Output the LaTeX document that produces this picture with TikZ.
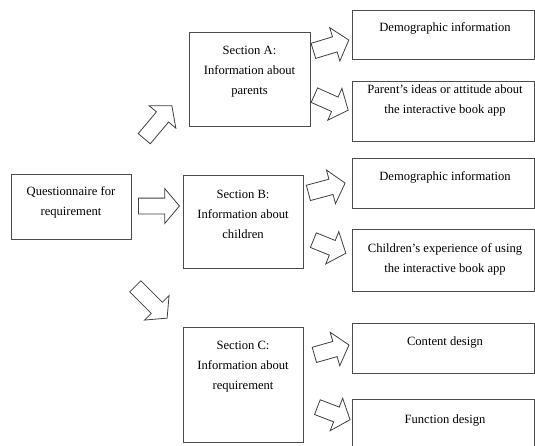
\documentclass[tikz,border=0pt]{standalone}
\usepackage{fontspec}
\setmainfont{Liberation Serif}
\usetikzlibrary{shapes.arrows}
\begin{document}
\begin{tikzpicture}[x=1pt,y=-1pt,
  box/.style={draw=black!70, line width=1.2pt, rectangle, anchor=north west, inner sep=0pt},
  txt/.style={align=center, font=\fontsize{12.6}{20}\selectfont, text=black, inner sep=0pt},
  barrow/.style={single arrow, draw=black!75, line width=0.8pt, fill=white,
    minimum height=#1, single arrow head extend=9.5pt, single arrow tip angle=100,
    inner sep=7.5pt, anchor=tail}
]
\useasboundingbox (0,0) rectangle (535,445);
\clip (0,0) rectangle (535,445);
\fill[white] (0,0) rectangle (535,445);

% boxes
\node[box, minimum width=120pt, minimum height=65pt] (q) at (11,174) {};
\node[box, minimum width=121pt, minimum height=94pt] (a) at (189,32) {};
\node[box, minimum width=120pt, minimum height=93pt] (b) at (183,175) {};
\node[box, minimum width=120pt, minimum height=115pt] (c) at (183,327) {};
\node[box, minimum width=182pt, minimum height=49pt] (a1) at (352,10) {};
\node[box, minimum width=182pt, minimum height=60pt] (a2) at (352,81) {};
\node[box, minimum width=182pt, minimum height=50pt] (b1) at (352,158) {};
\node[box, minimum width=182pt, minimum height=62pt] (b2) at (352,229) {};
\node[box, minimum width=182pt, minimum height=50pt] (c1) at (352,323) {};
\node[box, minimum width=182pt, minimum height=50pt] (c2) at (352,399) {};

% texts
\node[txt] (qt) at (71,202) {Questionnaire for\\requirement};
\node[txt] (at) at (249.5,72) {Section A:\\Information about\\parents};
\node[txt] (bt) at (243,214) {Section B:\\Information about\\children};
\node[txt] (ct) at (243,367) {Section C:\\Information about\\requirement};
\node[txt] (a1t) at (445,28) {Demographic information};
\node[txt] (a2t) at (445,100) {Parent's ideas or attitude about\\the interactive book app};
\node[txt] (b1t) at (445,177) {Demographic information};
\node[txt] (b2t) at (445,259) {Children's experience of using\\the interactive book app};
\node[txt] (c1t) at (445,342) {Content design};
\node[txt] (c2t) at (445,420) {Function design};

% block arrows
\node[barrow=41pt] (qb) at (138,206) {};
\node[barrow=43pt, rotate=50] (qa) at (144,139) {};
\node[barrow=45pt, rotate=-45] (qc) at (135,286) {};
\node[barrow=37pt, rotate=17] (aa1) at (313,51) {};
\node[barrow=37pt, rotate=-24] (aa2) at (314,95) {};
\node[barrow=38pt, rotate=15] (bb1) at (308,193) {};
\node[barrow=35pt, rotate=-22] (bb2) at (313,240) {};
\node[barrow=36pt, rotate=16] (cc1) at (314,355) {};
\node[barrow=35pt, rotate=-21] (cc2) at (317,407) {};
\end{tikzpicture}
\end{document}
